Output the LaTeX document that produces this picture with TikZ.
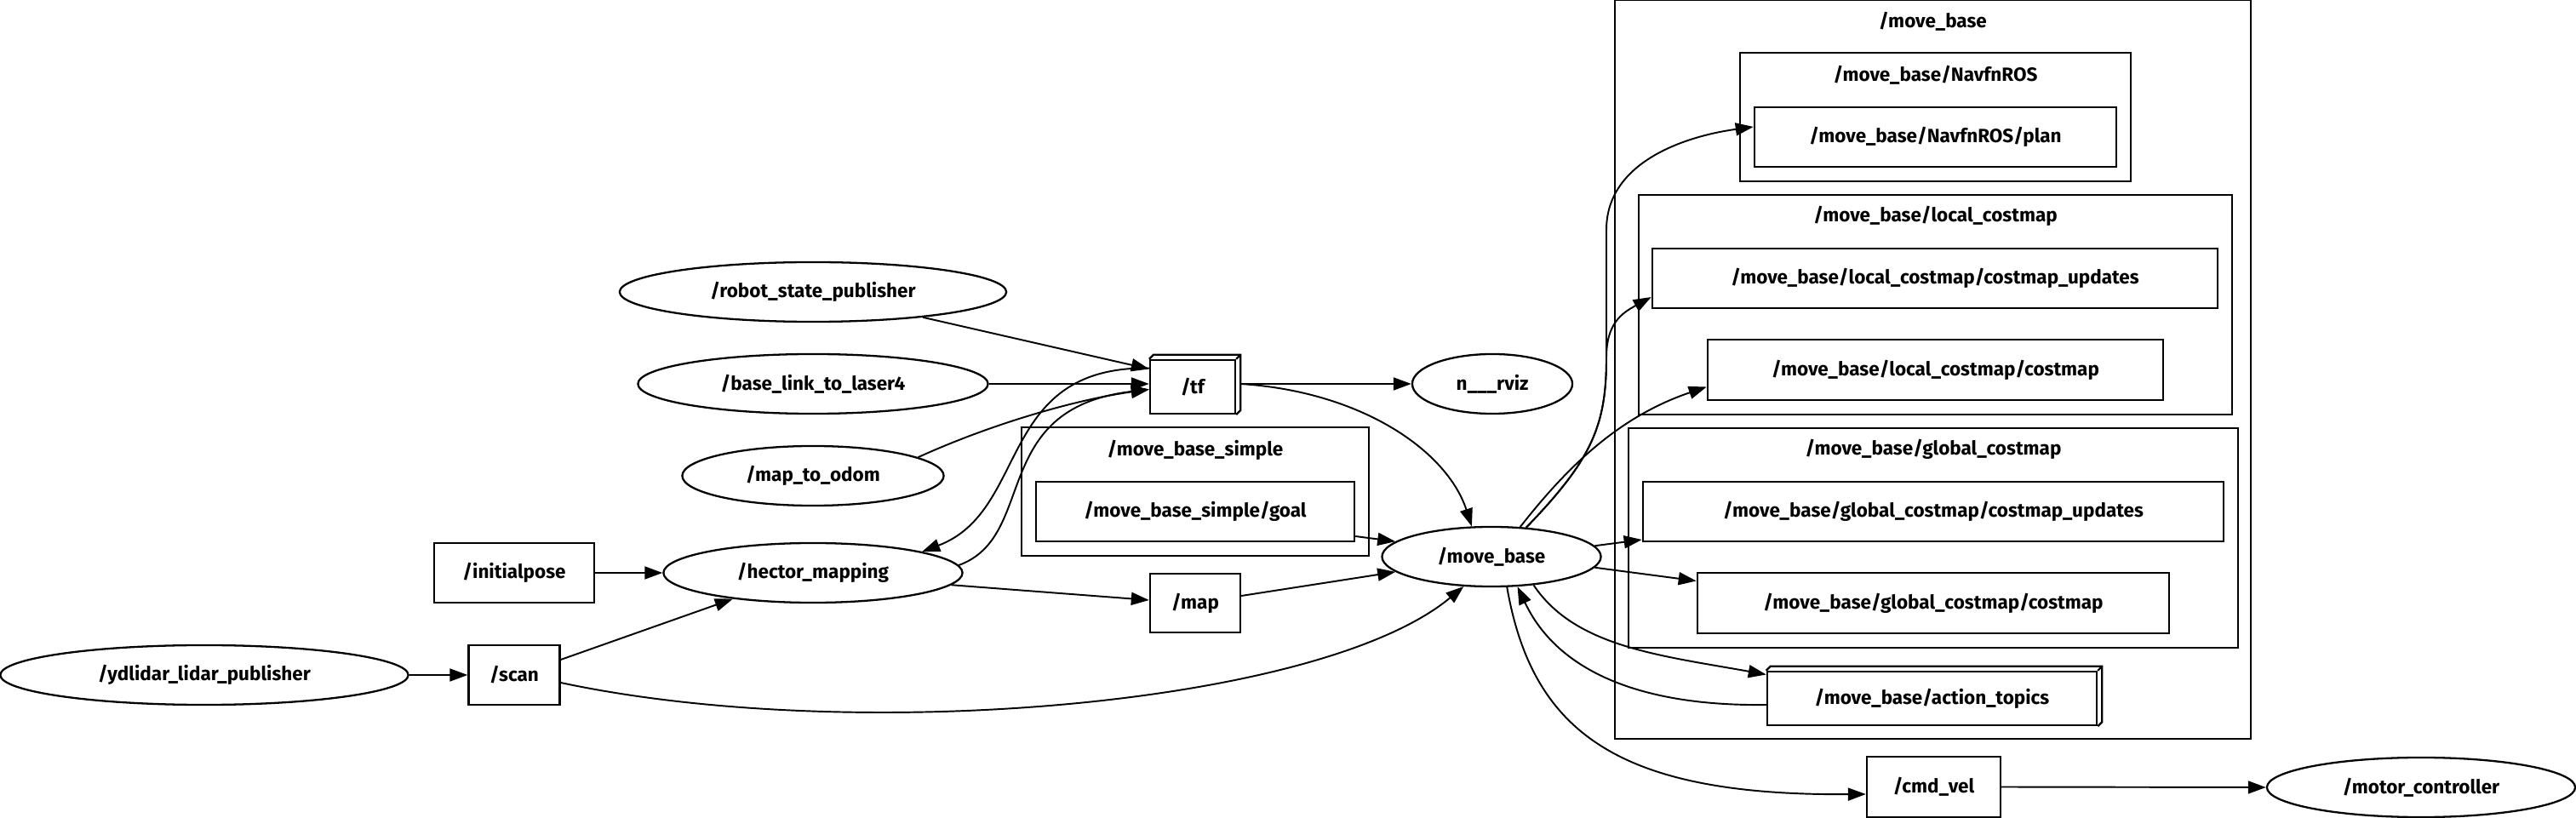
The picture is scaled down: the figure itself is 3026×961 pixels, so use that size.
\documentclass[tikz,border=0pt]{standalone}
\usepackage{fontspec}
\setmainfont{Fira Sans}
\usetikzlibrary{shapes.geometric, arrows.meta, positioning, calc}

\begin{document}
\begin{tikzpicture}[x=0.01cm, y=-0.01cm,
  every node/.style={font=\bfseries\fontsize{6.4}{7}\selectfont, inner sep=0pt},
  rosnode/.style={ellipse, draw, line width=0.65pt, minimum height=0.70cm},
  topic/.style={rectangle, draw, line width=0.65pt},
  cluster/.style={rectangle, draw, line width=0.65pt},
  link/.style={line width=0.55pt, -{Triangle[length=2.1mm, width=1.5mm]}},
  ]
  \useasboundingbox (0,0) rectangle (3026,961);

  % namespaces
  \foreach \nm/\x/\y/\len/\high/\ty/\txt in {
    cmb/2270.5/434/7.47/8.68/25/{/move\_base},
    cnav/2273.5/137.5/4.59/1.51/88/{/move\_base/NavfnROS},
    cloc/2273.5/358/6.97/2.58/254/{/move\_base/local\_costmap},
    cglob/2271/632/7.16/2.58/528/{/move\_base/global\_costmap},
    cmbs/1404/577.5/4.08/1.51/529/{/move\_base\_simple}%
  } {
    \node[cluster, minimum width=\len cm, minimum height=\high cm] (\nm) at (\x,\y) {};
    \node (\nm-title) at (\x,\ty) {\txt};
  }

  % ros nodes
  \foreach \nm/\x/\y/\len/\txt in {
    rsp/955/343/4.54/{/robot\_state\_publisher},
    blink/955/451/4.11/{/base\_link\_to\_laser4},
    m2o/955/559/3.07/{/map\_to\_odom},
    hector/955/673/3.51/{/hector\_mapping},
    yd/240/793/4.79/{/ydlidar\_lidar\_publisher},
    mb/1752/654/2.57/{/move\_base},
    rviz/1753/451/1.88/{n\_\_\_rviz},
    motor/2844/925/3.62/{/motor\_controller}%
  } {
    \node[rosnode, minimum width=\len cm] (\nm) at (\x,\y) {\txt};
  }

  % topics
  \foreach \nm/\x/\y/\len/\high/\txt in {
    ip/604/673/1.88/0.70/{/initialpose},
    scan/604/793/1.07/0.70/{/scan},
    map/1404/708.5/1.06/0.69/{/map},
    tf/1401/454.5/1.00/0.63/{/tf},
    goal/1404/601/3.74/0.70/{/move\_base\_simple/goal},
    plan/2273.5/161/4.25/0.70/{/move\_base/NavfnROS/plan},
    lupd/2273/327/6.64/0.70/{/move\_base/local\_costmap/costmap\_updates},
    lcm/2273.5/434.5/5.35/0.71/{/move\_base/local\_costmap/costmap},
    gupd/2271/601/6.82/0.70/{/move\_base/global\_costmap/costmap\_updates},
    gcm/2271/708.5/5.54/0.71/{/move\_base/global\_costmap/costmap},
    act/2269.5/820.5/3.87/0.63/{/move\_base/action\_topics},
    cmd/2271.5/924.5/1.57/0.71/{/cmd\_vel}%
  } {
    \node[topic, minimum width=\len cm, minimum height=\high cm] (\nm) at (\x,\y) {\txt};
  }

  % box3d look
  \foreach \nm in {tf, act} {
    \draw[line width=0.65pt] (\nm.north west) -- ++(5,-5) -| ([shift={(5,-5)}]\nm.south east) -- (\nm.south east);
    \draw[line width=0.65pt] (\nm.north east) -- ++(5,-5);
  }

  % connections
  \draw[link] (rsp.-13) -- ([yshift=2.1mm]tf.west);
  \draw[link] (blink.east) -- (blink.east -| tf.west);
  \draw[link] (m2o.10) .. controls (1160,500) and (1260,470) .. ([yshift=-0.3mm]tf.west);
  \draw[link] (hector.3) .. controls (1220,630) and (1160,480) .. ([yshift=-0.3mm]tf.west);
  \draw[link] ([yshift=2.2mm]tf.west) .. controls (1170,430) and (1210,600) .. (hector.11);
  \draw[link] ([xshift=0.5mm,yshift=0.35mm]tf.east) -- (rviz.west);
  \draw[link] ([xshift=0.5mm,yshift=0.35mm]tf.east) .. controls (1600,460) and (1700,530) .. (mb.123);
  \draw[link] ([yshift=-2.9mm]goal.east) -- (mb.171);
  \draw[link] (hector.-5) -- ([yshift=0.35mm]map.west);
  \draw[link] ([yshift=0.85mm]map.east) -- (mb.189);
  \draw[link] (ip.east) -- (hector.west);
  \draw[link] (yd.east) -- (scan.west);
  \draw[link] ([yshift=1.8mm]scan.east) -- (hector.198);
  \draw[link] ([yshift=-0.9mm]scan.east) .. controls (1000,875) and (1550,830) .. (mb.227);
  \draw[link] (mb.40) .. controls (1870,540) and (1887,500) .. (1887,420) -- (1887,270)
    .. controls (1887,190) and (1980,160) .. ([yshift=1.2mm]plan.west);
  \draw[link] (mb.40) .. controls (1870,540) and (1887,500) .. (1887,420)
    .. controls (1887,380) and (1905,368) .. ([yshift=-2.2mm]lupd.west);
  \draw[link] (mb.46) .. controls (1840,550) and (1900,490) .. ([yshift=-2mm]lcm.west);
  \draw[link] (mb.6) -- ([yshift=-3.3mm]gupd.west);
  \draw[link] (mb.-6) -- ([yshift=2.6mm]gcm.west);
  \draw[link] (mb.-34) .. controls (1850,760) and (1950,770) .. ([yshift=2.8mm]act.west);
  \draw[link] ([yshift=-0.75mm]act.west) .. controls (1930,830) and (1830,790) .. (mb.-49);
  \draw[link] (mb.-63) .. controls (1800,860) and (1900,935) .. ([yshift=-0.85mm]cmd.west);
  \draw[link] (cmd.east) -- (motor.west);
\end{tikzpicture}
\end{document}
